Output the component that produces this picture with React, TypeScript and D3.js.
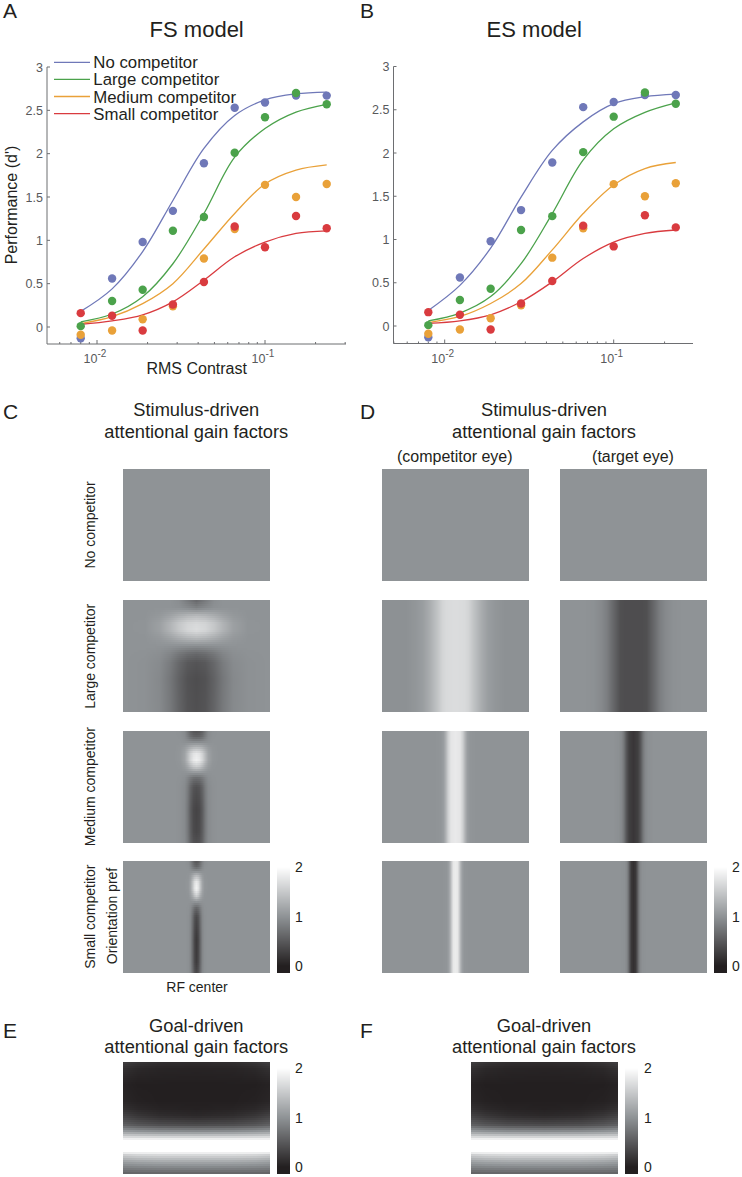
import * as d3 from "d3";

const FONT = "'Liberation Sans', Arial, sans-serif";
const TICK_COLOR = "#58595b";
const AXIS_COLOR = "#6d6e71";
const TEXT_COLOR = "#231f20";

// panels A and B
const contrast = [0.008, 0.0123, 0.0187, 0.0283, 0.0433, 0.066, 0.1, 0.153, 0.233];
const seriesNames = ["No competitor", "Large competitor", "Medium competitor", "Small competitor"];
const seriesColors = ["#6f78b8", "#4ba24b", "#e9a139", "#d93b3f"];
const yTicks = [0, 0.5, 1, 1.5, 2, 2.5, 3];

const blueDots = [-0.13, 0.56, 0.98, 1.34, 1.89, 2.53, 2.59, 2.67, 2.67];
const greenDots = [0.01, 0.3, 0.43, 1.11, 1.27, 2.01, 2.42, 2.7, 2.57];
const orangeDots = [-0.09, -0.04, 0.09, 0.24, 0.79, 1.13, 1.64, 1.5, 1.65];
const redDots = [0.16, 0.13, -0.04, 0.26, 0.52, 1.16, 0.92, 1.28, 1.14];
const dots = [blueDots, greenDots, orangeDots, redDots];

const fsBlue = [0.18, 0.44, 0.87, 1.46, 2.06, 2.44, 2.62, 2.69, 2.71];
const fsGreen = [0.06, 0.15, 0.35, 0.73, 1.31, 1.96, 2.29, 2.48, 2.57];
const fsOrange = [0.04, 0.12, 0.27, 0.5, 0.9, 1.31, 1.65, 1.81, 1.87];
const fsRed = [0.03, 0.07, 0.14, 0.29, 0.54, 0.81, 0.98, 1.08, 1.11];

const esBlue = [0.18, 0.47, 0.9, 1.49, 2.03, 2.36, 2.57, 2.65, 2.68];
const esGreen = [0.06, 0.15, 0.34, 0.72, 1.3, 1.92, 2.28, 2.47, 2.58];
const esOrange = [0.04, 0.11, 0.26, 0.49, 0.88, 1.3, 1.63, 1.82, 1.89];
const esRed = [0.03, 0.06, 0.13, 0.28, 0.51, 0.78, 0.97, 1.07, 1.11];

// gain maps: rows run top to bottom, columns are distance from the RF center
const largeRows = [0, 0.07, 0.14, 0.21, 0.27, 0.34, 0.41, 0.48, 0.56, 0.7, 1];
const largeCols = [0, 0.06, 0.12, 0.18, 0.25, 0.35, 0.5];
const largeGain = [
  [0.62, 0.78, 0.95, 1, 1, 1, 1],
  [0.85, 0.92, 0.98, 1, 1, 1, 1],
  [1.36, 1.32, 1.24, 1.14, 1.05, 1, 1],
  [1.64, 1.6, 1.48, 1.3, 1.12, 1.01, 1],
  [1.68, 1.62, 1.48, 1.3, 1.12, 1.01, 1],
  [1.36, 1.32, 1.24, 1.14, 1.05, 1, 1],
  [0.96, 0.97, 0.98, 0.99, 1, 1, 1],
  [0.63, 0.67, 0.76, 0.88, 0.96, 0.99, 1],
  [0.46, 0.5, 0.63, 0.8, 0.93, 0.98, 1],
  [0.4, 0.44, 0.58, 0.76, 0.91, 0.98, 1],
  [0.42, 0.46, 0.6, 0.78, 0.92, 0.98, 1],
];

const mediumRows = [0, 0.05, 0.1, 0.15, 0.2, 0.26, 0.32, 0.37, 0.42, 0.5, 0.7, 0.9, 1];
const mediumCols = [0, 0.02, 0.04, 0.06, 0.08, 0.11, 0.15, 0.5];
const mediumGain = [
  [0.45, 0.48, 0.58, 0.76, 0.92, 0.98, 1, 1],
  [0.58, 0.6, 0.68, 0.82, 0.94, 0.99, 1, 1],
  [0.95, 0.95, 0.96, 0.97, 0.98, 1, 1, 1],
  [1.36, 1.34, 1.27, 1.17, 1.08, 1.02, 1, 1],
  [1.78, 1.73, 1.58, 1.35, 1.14, 1.03, 1, 1],
  [1.86, 1.8, 1.62, 1.37, 1.15, 1.03, 1, 1],
  [1.52, 1.47, 1.34, 1.18, 1.07, 1.01, 1, 1],
  [1.05, 1.05, 1.03, 1.02, 1, 1, 1, 1],
  [0.68, 0.7, 0.78, 0.88, 0.96, 0.99, 1, 1],
  [0.42, 0.46, 0.6, 0.8, 0.93, 0.98, 1, 1],
  [0.32, 0.36, 0.52, 0.76, 0.92, 0.98, 1, 1],
  [0.34, 0.38, 0.54, 0.77, 0.92, 0.98, 1, 1],
  [0.42, 0.45, 0.58, 0.79, 0.93, 0.98, 1, 1],
];

const smallRows = [0, 0.05, 0.09, 0.13, 0.19, 0.25, 0.31, 0.36, 0.42, 0.5, 0.7, 0.9, 1];
const smallCols = [0, 0.012, 0.025, 0.04, 0.055, 0.08, 0.12, 0.5];
const smallGain = [
  [0.48, 0.52, 0.66, 0.85, 0.96, 1, 1, 1],
  [0.62, 0.66, 0.76, 0.9, 0.98, 1, 1, 1],
  [0.95, 0.95, 0.96, 0.98, 1, 1, 1, 1],
  [1.35, 1.31, 1.2, 1.07, 1.01, 1, 1, 1],
  [1.8, 1.72, 1.45, 1.16, 1.03, 1, 1, 1],
  [1.88, 1.78, 1.48, 1.17, 1.03, 1, 1, 1],
  [1.55, 1.46, 1.25, 1.09, 1.01, 1, 1, 1],
  [1.05, 1.03, 1.02, 1, 1, 1, 1, 1],
  [0.62, 0.67, 0.8, 0.94, 0.99, 1, 1, 1],
  [0.36, 0.43, 0.67, 0.9, 0.98, 1, 1, 1],
  [0.23, 0.32, 0.6, 0.88, 0.98, 1, 1, 1],
  [0.25, 0.34, 0.61, 0.88, 0.98, 1, 1, 1],
  [0.36, 0.43, 0.66, 0.9, 0.98, 1, 1, 1],
];

// eye specific bands in panel D have no vertical structure
const largeBandCols = [0, 0.06, 0.09, 0.12, 0.15, 0.18, 0.22, 0.27, 0.34, 0.5];
const largeCompetitorEye = [1.68, 1.66, 1.6, 1.46, 1.34, 1.22, 1.1, 1.03, 0.98, 0.98];
const largeTargetEye = [0.4, 0.4, 0.42, 0.55, 0.68, 0.82, 0.92, 0.98, 1, 1];
const mediumBandCols = [0, 0.03, 0.05, 0.065, 0.08, 0.1, 0.14, 0.5];
const mediumCompetitorEye = [1.8, 1.76, 1.56, 1.3, 1.1, 1.02, 1, 1];
const mediumTargetEye = [0.2, 0.28, 0.5, 0.75, 0.9, 0.97, 1, 1];
const smallBandCols = [0, 0.015, 0.025, 0.035, 0.045, 0.06, 0.09, 0.5];
const smallCompetitorEye = [1.82, 1.78, 1.56, 1.3, 1.12, 1.02, 1, 1];
const smallTargetEye = [0.15, 0.22, 0.45, 0.72, 0.9, 0.98, 1, 1];

const goalRows = [0, 0.06, 0.2, 0.35, 0.42, 0.48, 0.56, 0.62, 0.665, 0.7, 0.8, 0.83, 0.89, 0.95, 1];
const goalCols = [0, 0.25, 0.4, 0.5];
const goalGain = [
  [0.12, 0.14, 0.2, 0.28],
  [0.04, 0.05, 0.08, 0.15],
  [0, 0, 0, 0.03],
  [0, 0, 0.02, 0.06],
  [0.02, 0.04, 0.08, 0.15],
  [0.08, 0.12, 0.2, 0.3],
  [0.36, 0.39, 0.46, 0.55],
  [0.95, 0.97, 1.02, 1.08],
  [1.55, 1.56, 1.58, 1.6],
  [2, 2, 2, 2],
  [2, 2, 2, 2],
  [1.65, 1.65, 1.62, 1.55],
  [1.2, 1.2, 1.17, 1.12],
  [0.85, 0.84, 0.82, 0.8],
  [0.58, 0.58, 0.58, 0.56],
];

const grayScale = d3
  .scaleLinear<string>()
  .domain([0, 1, 2])
  .range(["#231f20", "#8f9396", "#ffffff"])
  .clamp(true);

type PerfProps = {
  left: number;
  right: number;
  top: number;
  zeroY: number;
  bottom: number;
  decade2: number;
  decade1: number;
  curves: number[][];
};

const PerfPanel = ({ left, right, top, zeroY, bottom, decade2, decade1, curves }: PerfProps) => {
  const xScale = d3.scaleLog().domain([0.01, 0.1]).range([decade2, decade1]);
  const yScale = d3.scaleLinear().domain([0, 3]).range([zeroY, top]);
  const line = d3
    .line<number>()
    .x((_, i) => xScale(contrast[i]))
    .y((d) => yScale(d))
    .curve(d3.curveCatmullRom);
  const axisTicks = d3
    .scaleLog()
    .domain([xScale.invert(left), xScale.invert(right)])
    .ticks();

  return (
    <g>
      <path d={`M${left},${top}V${bottom}H${right}`} fill="none" stroke={AXIS_COLOR} strokeWidth={1} />
      {yTicks.map((t) => (
        <g key={t}>
          <line x1={left} x2={left + 3} y1={yScale(t)} y2={yScale(t)} stroke={AXIS_COLOR} />
          <text x={left - 4} y={yScale(t) + 4.5} textAnchor="end" fontSize={12.5} fill={TICK_COLOR}>
            {t}
          </text>
        </g>
      ))}
      {axisTicks.map((t) => {
        const major = Math.abs(Math.log10(t) - Math.round(Math.log10(t))) < 1e-6;
        return (
          <line
            key={t}
            x1={xScale(t)}
            x2={xScale(t)}
            y1={bottom}
            y2={bottom - (major ? 4 : 2)}
            stroke={AXIS_COLOR}
          />
        );
      })}
      {[0.01, 0.1].map((t, i) => (
        <text key={t} x={xScale(t) - 2} y={bottom + 19} textAnchor="middle" fontSize={12.5} fill={TICK_COLOR}>
          10
          <tspan dy={-6} fontSize={10}>
            {i === 0 ? "-2" : "-1"}
          </tspan>
        </text>
      ))}
      {curves.map((c, i) => (
        <path key={i} d={line(c) ?? ""} fill="none" stroke={seriesColors[i]} strokeWidth={1.3} />
      ))}
      {dots.map((series, i) => (
        <g key={i}>
          {series.map((d, j) => (
            <circle key={j} cx={xScale(contrast[j])} cy={yScale(d)} r={4.2} fill={seriesColors[i]} />
          ))}
        </g>
      ))}
    </g>
  );
};

type HeatProps = {
  x: number;
  y: number;
  w: number;
  h: number;
  rows?: number[];
  cols?: number[];
  values?: number[][];
};

// rows of equal gray are merged so the svg stays a reasonable size
const Heat = ({ x, y, w, h, rows, cols, values }: HeatProps) => {
  if (!rows || !cols || !values) {
    return <rect x={x} y={y} width={w} height={h} fill={grayScale(1)} />;
  }
  const xOffset = d3.scaleLinear().domain([0, w]).range([-0.5, 0.5]);
  const yPos = d3.scaleLinear().domain([0, h]).range([0, 1]);
  const stripH = rows.length === 1 ? h : 2;
  const cells: { x: number; y: number; w: number; fill: string }[] = [];

  d3.range(0, h, stripH).forEach((py) => {
    const rowValues =
      rows.length === 1
        ? values[0]
        : cols.map((_, j) =>
            d3
              .scaleLinear()
              .domain(rows)
              .range(values.map((r) => r[j]))(yPos(py + stripH / 2))
          );
    const profile = d3.scaleLinear().domain(cols).range(rowValues);
    let start = 0;
    let current = "";
    d3.range(w).forEach((px) => {
      const fill = grayScale(profile(Math.abs(xOffset(px + 0.5))));
      if (fill !== current) {
        if (current) cells.push({ x: start, y: py, w: px - start, fill: current });
        start = px;
        current = fill;
      }
    });
    cells.push({ x: start, y: py, w: w - start, fill: current });
  });

  return (
    <g transform={`translate(${x},${y})`} shapeRendering="crispEdges">
      {cells.map((c, i) => (
        <rect key={i} x={c.x} y={c.y} width={c.w} height={stripH} fill={c.fill} />
      ))}
    </g>
  );
};

const ColorBar = ({ x, y, labelX }: { x: number; y: number; labelX: number }) => {
  const HEIGHT = 112;
  const barScale = d3.scaleLinear().domain([0, 2]).range([y + 105, y + 6]);
  return (
    <g>
      <g shapeRendering="crispEdges">
        {d3.range(y, y + HEIGHT).map((py) => (
          <rect key={py} x={x} y={py} width={13} height={1} fill={grayScale(barScale.invert(py + 0.5))} />
        ))}
      </g>
      {[0, 1, 2].map((t) => (
        <text key={t} x={labelX} y={barScale(t) + 5} fontSize={14} fill={TEXT_COLOR}>
          {t}
        </text>
      ))}
    </g>
  );
};

const Label = ({ x, y, size, children }: { x: number; y: number; size: number; children: string }) => (
  <text x={x} y={y} fontSize={size} textAnchor="middle" fill={TEXT_COLOR}>
    {children}
  </text>
);

const VLabel = ({ x, y, children }: { x: number; y: number; children: string }) => (
  <text transform={`translate(${x},${y}) rotate(-90)`} fontSize={14} textAnchor="middle" fill={TEXT_COLOR}>
    {children}
  </text>
);

export default function App() {
  const C_X = 123;
  const D1_X = 382;
  const D2_X = 560;
  const MAP_W = 147;
  const MAP_H = 112;
  const ROW_Y = [469, 600, 731, 861];

  return (
    <svg
      width={742}
      height={1177}
      style={{ position: "absolute", left: 0, top: 0, display: "block", background: "#fff" }}
      fontFamily={FONT}
    >
      {[
        ["A", 3, 18],
        ["B", 360, 18],
        ["C", 3, 419],
        ["D", 360, 419],
        ["E", 3, 1038],
        ["F", 360, 1038],
      ].map(([t, x, y]) => (
        <text key={t as string} x={x as number} y={y as number} fontSize={21} fill={TEXT_COLOR}>
          {t}
        </text>
      ))}

      <Label x={196.7} y={37} size={22}>FS model</Label>
      <Label x={534.3} y={37} size={22}>ES model</Label>

      <PerfPanel
        left={47}
        right={346}
        top={67}
        zeroY={327}
        bottom={344}
        decade2={97}
        decade1={265}
        curves={[fsBlue, fsGreen, fsOrange, fsRed]}
      />
      <PerfPanel
        left={393.5}
        right={693}
        top={66.5}
        zeroY={326}
        bottom={343.5}
        decade2={444.7}
        decade1={613.7}
        curves={[esBlue, esGreen, esOrange, esRed]}
      />

      {seriesNames.map((name, i) => (
        <g key={name}>
          <line x1={54} x2={90} y1={62.3 + i * 17.1} y2={62.3 + i * 17.1} stroke={seriesColors[i]} strokeWidth={1.3} />
          <text x={93.3} y={68.3 + i * 17.1} fontSize={16.8} fill={TEXT_COLOR}>
            {name}
          </text>
        </g>
      ))}

      <text transform="translate(16.5,205) rotate(-90)" fontSize={16} textAnchor="middle" fill={TEXT_COLOR}>
        Performance (d')
      </text>
      <Label x={196.7} y={374} size={16}>RMS Contrast</Label>

      <Label x={196.3} y={415.7} size={18.3}>Stimulus-driven</Label>
      <Label x={196.3} y={437.7} size={18.3}>attentional gain factors</Label>
      <Label x={544} y={415.7} size={18.3}>Stimulus-driven</Label>
      <Label x={544} y={437.7} size={18.3}>attentional gain factors</Label>
      <Label x={454.8} y={461.7} size={16}>(competitor eye)</Label>
      <Label x={633} y={461.7} size={16}>(target eye)</Label>

      <Heat x={C_X} y={ROW_Y[0]} w={MAP_W} h={MAP_H} />
      <Heat x={C_X} y={ROW_Y[1]} w={MAP_W} h={MAP_H} rows={largeRows} cols={largeCols} values={largeGain} />
      <Heat x={C_X} y={ROW_Y[2]} w={MAP_W} h={MAP_H} rows={mediumRows} cols={mediumCols} values={mediumGain} />
      <Heat x={C_X} y={ROW_Y[3]} w={MAP_W} h={MAP_H} rows={smallRows} cols={smallCols} values={smallGain} />
      <ColorBar x={277} y={ROW_Y[3]} labelX={295} />

      <Heat x={D1_X} y={ROW_Y[0]} w={MAP_W} h={MAP_H} />
      <Heat x={D2_X} y={ROW_Y[0]} w={MAP_W} h={MAP_H} />
      <Heat x={D1_X} y={ROW_Y[1]} w={MAP_W} h={MAP_H} rows={[0]} cols={largeBandCols} values={[largeCompetitorEye]} />
      <Heat x={D2_X} y={ROW_Y[1]} w={MAP_W} h={MAP_H} rows={[0]} cols={largeBandCols} values={[largeTargetEye]} />
      <Heat x={D1_X} y={ROW_Y[2]} w={MAP_W} h={MAP_H} rows={[0]} cols={mediumBandCols} values={[mediumCompetitorEye]} />
      <Heat x={D2_X} y={ROW_Y[2]} w={MAP_W} h={MAP_H} rows={[0]} cols={mediumBandCols} values={[mediumTargetEye]} />
      <Heat x={D1_X} y={ROW_Y[3]} w={MAP_W} h={MAP_H} rows={[0]} cols={smallBandCols} values={[smallCompetitorEye]} />
      <Heat x={D2_X} y={ROW_Y[3]} w={MAP_W} h={MAP_H} rows={[0]} cols={smallBandCols} values={[smallTargetEye]} />
      <ColorBar x={714} y={ROW_Y[3]} labelX={732} />

      <VLabel x={95} y={525}>No competitor</VLabel>
      <VLabel x={95} y={656.3}>Large competitor</VLabel>
      <VLabel x={95} y={786.7}>Medium competitor</VLabel>
      <VLabel x={95} y={916.7}>Small competitor</VLabel>
      <VLabel x={116.7} y={916}>Orientation pref</VLabel>
      <Label x={197} y={992} size={14}>RF center</Label>

      <Label x={196.3} y={1031.7} size={18.3}>Goal-driven</Label>
      <Label x={196.3} y={1053} size={18.3}>attentional gain factors</Label>
      <Label x={544} y={1031.7} size={18.3}>Goal-driven</Label>
      <Label x={544} y={1053} size={18.3}>attentional gain factors</Label>

      <Heat x={123} y={1062} w={MAP_W} h={MAP_H} rows={goalRows} cols={goalCols} values={goalGain} />
      <ColorBar x={277} y={1062} labelX={295} />
      <Heat x={471} y={1062} w={MAP_W} h={MAP_H} rows={goalRows} cols={goalCols} values={goalGain} />
      <ColorBar x={625} y={1062} labelX={644} />
    </svg>
  );
}
